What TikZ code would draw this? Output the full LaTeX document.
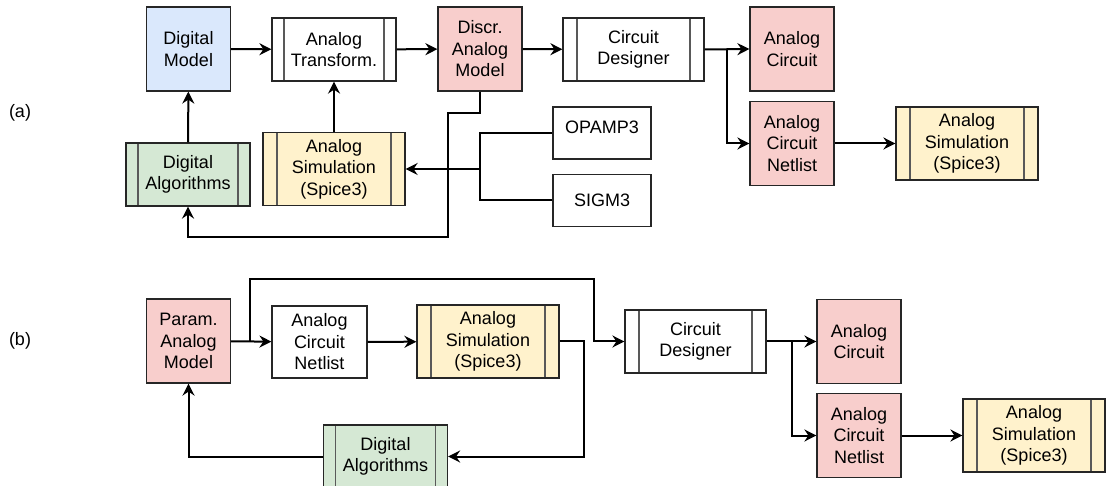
\documentclass[tikz,border=0pt]{standalone}
\usepackage{fontspec}
\setmainfont{Liberation Sans}
\usetikzlibrary{arrows.meta}
\definecolor{bluefill}{HTML}{DAE8FC}
\definecolor{redfill}{HTML}{F8CECC}
\definecolor{greenfill}{HTML}{D5E8D4}
\definecolor{yellowfill}{HTML}{FFF2CC}

\begin{document}
\begin{tikzpicture}
    [
      x=1pt,y=-1pt,
      every node/.style={font=\fontsize{18}{21.5}\selectfont},
      block/.style={rectangle,draw=black!85,line width=1.2pt,align=center,inner sep=2pt},
      model/.style={block,minimum width=84pt,minimum height=84pt},
      netlist/.style={block,minimum width=95pt,minimum height=72pt},
      lib/.style={block,minimum width=98pt,minimum height=52pt},
      process/.style={block,
        path picture={\draw[black!65,line width=1.2pt]
          ([xshift=#1]path picture bounding box.north west) -- ([xshift=#1]path picture bounding box.south west)
          ([xshift=-#1]path picture bounding box.north east) -- ([xshift=-#1]path picture bounding box.south east);}},
      small/.style={process=12pt,minimum width=124pt,minimum height=63pt},
      sim/.style={process=14pt,minimum width=142pt,minimum height=73pt},
      post/.style={->,>={Stealth[length=12pt,width=12pt,inset=4pt]},line width=2pt},
      line/.style={line width=2pt},
    ]

    \useasboundingbox (0,0) rectangle (1106,486);

    % (a)
    \node (label-a) at (20,113) {(a)};

    \node (dig-model) [model,fill=bluefill] at (188.5,49) {Digital\\Model};
    \node (ana-trans) [small] at (334,49.5) {Analog\\Transform.};
    \node (discr-model) [model,fill=redfill] at (480,49) {Discr.\\Analog\\Model};
    \node (designer-a) [process=14pt,minimum width=141pt,minimum height=63pt] at (633.5,49.5) {Circuit\\Designer};
    \node (circuit-a) [model,fill=redfill] at (792,49) {Analog\\Circuit};
    \node (netlist-a) [model,fill=redfill] at (792,143.5) {Analog\\Circuit\\Netlist};
    \node (spice-a2) [sim,fill=yellowfill] at (967,143.5) {Analog\\Simulation\\(Spice3)};

    \node (dig-alg-a) [small,fill=greenfill] at (188,174.5) {Digital\\Algorithms};
    \node (spice-a1) [sim,fill=yellowfill] at (334,169) {Analog\\Simulation\\(Spice3)};
    \node (opamp) [lib,text depth=12pt] at (602,133) {OPAMP3};
    \node (sigm) [lib] at (602,200.5) {SIGM3};

    \coordinate (split-a) at (727,49.5);
    \coordinate (lib-join) at (480,169);

    \path
    (dig-model) edge [post] (ana-trans)
    (ana-trans) edge [post] (discr-model)
    (discr-model) edge [post] (designer-a)
    (dig-alg-a) edge [post] (dig-model)
    (spice-a1) edge [post] (ana-trans)
    (netlist-a) edge [post] (spice-a2)
    ;
    \draw [post] (designer-a.east) -- (circuit-a.west);
    \draw [post] (split-a) |- (netlist-a.west);
    \draw [post] (discr-model.south) -- ++(0,21) -| (448,237) -| (dig-alg-a.south);
    \draw [line] (opamp.west) -| (lib-join);
    \draw [line] (sigm.west) -| (lib-join);
    \draw [post] (lib-join) -- (spice-a1.east);

    % (b)
    \node (label-b) at (20,341) {(b)};

    \node (param-model) [model,fill=redfill] at (188.5,341) {Param.\\Analog\\Model};
    \node (netlist-b1) [netlist] at (319.5,342) {Analog\\Circuit\\Netlist};
    \node (spice-b1) [sim,fill=yellowfill] at (488,341.5) {Analog\\Simulation\\(Spice3)};
    \node (dig-alg-b) [small,fill=greenfill] at (385.5,456.5) {Digital\\Algorithms};
    \node (designer-b) [process=14pt,minimum width=141pt,minimum height=63pt] at (695.5,341.5) {Circuit\\Designer};
    \node (circuit-b) [model,fill=redfill] at (859,341.5) {Analog\\Circuit};
    \node (netlist-b2) [model,fill=redfill] at (859,435.5) {Analog\\Circuit\\Netlist};
    \node (spice-b2) [sim,fill=yellowfill] at (1034,435.5) {Analog\\Simulation\\(Spice3)};

    \coordinate (bypass) at (250,341);
    \coordinate (split-b) at (792,341.5);

    \path
    (param-model) edge [post] (netlist-b1)
    (netlist-b1) edge [post] (spice-b1)
    (netlist-b2) edge [post] (spice-b2)
    ;
    \draw [post] (bypass) -- ++(0,-62) -| (594,341.5) -- (designer-b.west);
    \draw [post] (spice-b1.east) -- ++(24,0) |- (dig-alg-b.east);
    \draw [post] (dig-alg-b.west) -| (param-model.south);
    \draw [post] (designer-b.east) -- (circuit-b.west);
    \draw [post] (split-b) |- (netlist-b2.west);

\end{tikzpicture}
\end{document}
